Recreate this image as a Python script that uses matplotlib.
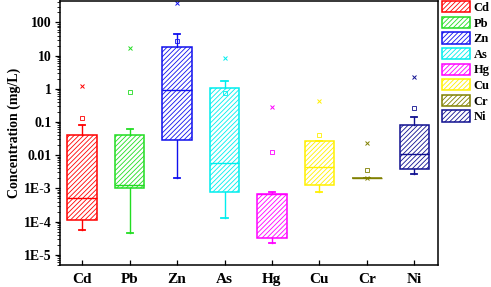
import matplotlib
matplotlib.use("Agg")
import matplotlib.pyplot as plt
from matplotlib.patches import Patch
from matplotlib.ticker import FixedLocator, FixedFormatter, LogLocator, NullFormatter

plt.rcParams['font.family'] = ['Liberation Serif', 'DejaVu Serif']
plt.rcParams['font.weight'] = 'bold'
plt.rcParams['hatch.linewidth'] = 0.6

metals = ["Cd", "Pb", "Zn", "As", "Hg", "Cu", "Cr", "Ni"]
colors = ["#FF0000", "#22DD22", "#1010EE", "#00EEEE", "#FF00FF", "#FFF000", "#808000", "#101090"]
q1 =     [1.1e-4, 1.05e-3, 0.029, 7.6e-4, 3.2e-5, 1.25e-3, 2.1e-3, 3.7e-3]
median = [5.2e-4, 1.3e-3, 0.93, 5.6e-3, 6.6e-4, 4.3e-3, 2.1e-3, 0.011]
q3 =     [0.04, 0.04, 18.6, 1.07, 6.7e-4, 0.026, 2.1e-3, 0.081]
whislo = [5.6e-5, 4.4e-5, 2.1e-3, 1.3e-4, 2.2e-5, 7.6e-4, 2.1e-3, 2.7e-3]
whishi = [0.079, 0.063, 45, 1.66, 7.9e-4, 0.026, 2.1e-3, 0.14]
means =  [0.13, 0.79, 27, 0.72, 0.0125, 0.04, 3.5e-3, 0.26]
maxs =   [1.17, 16.6, 380, 8.3, 0.28, 0.42, 0.023, 2.3]
ytick_vals = [1e-5, 1e-4, 1e-3, 1e-2, 0.1, 1, 10, 100]
ytick_labels = ["1E-5", "1E-4", "1E-3", "0.01", "0.1", "1", "10", "100"]

fig = plt.figure(figsize=(4.91, 2.87), dpi=100)
ax = fig.add_axes([0.122, 0.0767, 0.770, 0.921])

positions = list(range(1, len(metals) + 1))
stats = []
for i in range(len(metals)):
    stats.append(dict(med=median[i], q1=q1[i], q3=q3[i], whislo=whislo[i],
                      whishi=whishi[i], mean=means[i], fliers=[], label=metals[i]))

HATCH = '///////'
bp = ax.bxp(stats, positions=positions, widths=0.62, patch_artist=True,
            showmeans=False, showfliers=False, capwidths=0.13)
for i, c in enumerate(colors):
    b = bp['boxes'][i]
    b.set_facecolor('white')
    b.set_edgecolor(c)
    b.set_hatch(HATCH)
    b.set_linewidth(1.1)
    bp['medians'][i].set_color(c)
    bp['medians'][i].set_linewidth(1.0)
    for w in bp['whiskers'][2 * i:2 * i + 2]:
        w.set_color(c)
        w.set_linewidth(1.0)
    for cp in bp['caps'][2 * i:2 * i + 2]:
        cp.set_color(c)
        cp.set_linewidth(1.3)
    ax.plot(positions[i], means[i], marker='s', ms=3.0, mfc='none', mec=c, mew=0.6, ls='none')
    ax.plot(positions[i], maxs[i], marker='x', ms=3.0, color=c, mew=0.7, ls='none')
# Cr minimum marker on line
ax.plot(positions[6], whislo[6], marker='x', ms=3.0, color=colors[6], mew=0.7, ls='none')

ax.set_yscale('log')
ax.set_ylim(4.9e-6, 450)
ax.set_xlim(0.53, 8.5)
ax.yaxis.set_major_locator(FixedLocator(ytick_vals))
ax.yaxis.set_major_formatter(FixedFormatter(ytick_labels))
ax.yaxis.set_minor_locator(LogLocator(base=10, subs=range(2, 10), numticks=20))
ax.yaxis.set_minor_formatter(NullFormatter())
ax.set_xticks(positions)
ax.set_xticklabels(metals)
ax.tick_params(axis='y', which='major', direction='out', length=3.5, width=0.9, labelsize=10, pad=2.5)
ax.tick_params(axis='y', which='minor', direction='out', length=2, width=0.6)
ax.tick_params(axis='x', direction='in', length=3.5, width=0.9, labelsize=11, pad=6)
for lab in ax.get_xticklabels() + ax.get_yticklabels():
    lab.set_fontweight('bold')
for s in ax.spines.values():
    s.set_linewidth(1.1)
ax.set_ylabel("Concentration (mg/L)", fontsize=10, fontweight='bold', labelpad=2)

handles = [Patch(facecolor='white', edgecolor=c, hatch=HATCH, linewidth=1.1) for c in colors]
fig.legend(handles, metals, loc='upper left', bbox_to_anchor=(0.896, 1.005), frameon=False,
           prop={'size': 9, 'weight': 'bold'}, handlelength=2.2, handleheight=1.0,
           labelspacing=0.22, handletextpad=0.3, borderaxespad=0, borderpad=0.2)

fig.savefig("out.png", dpi=100)
